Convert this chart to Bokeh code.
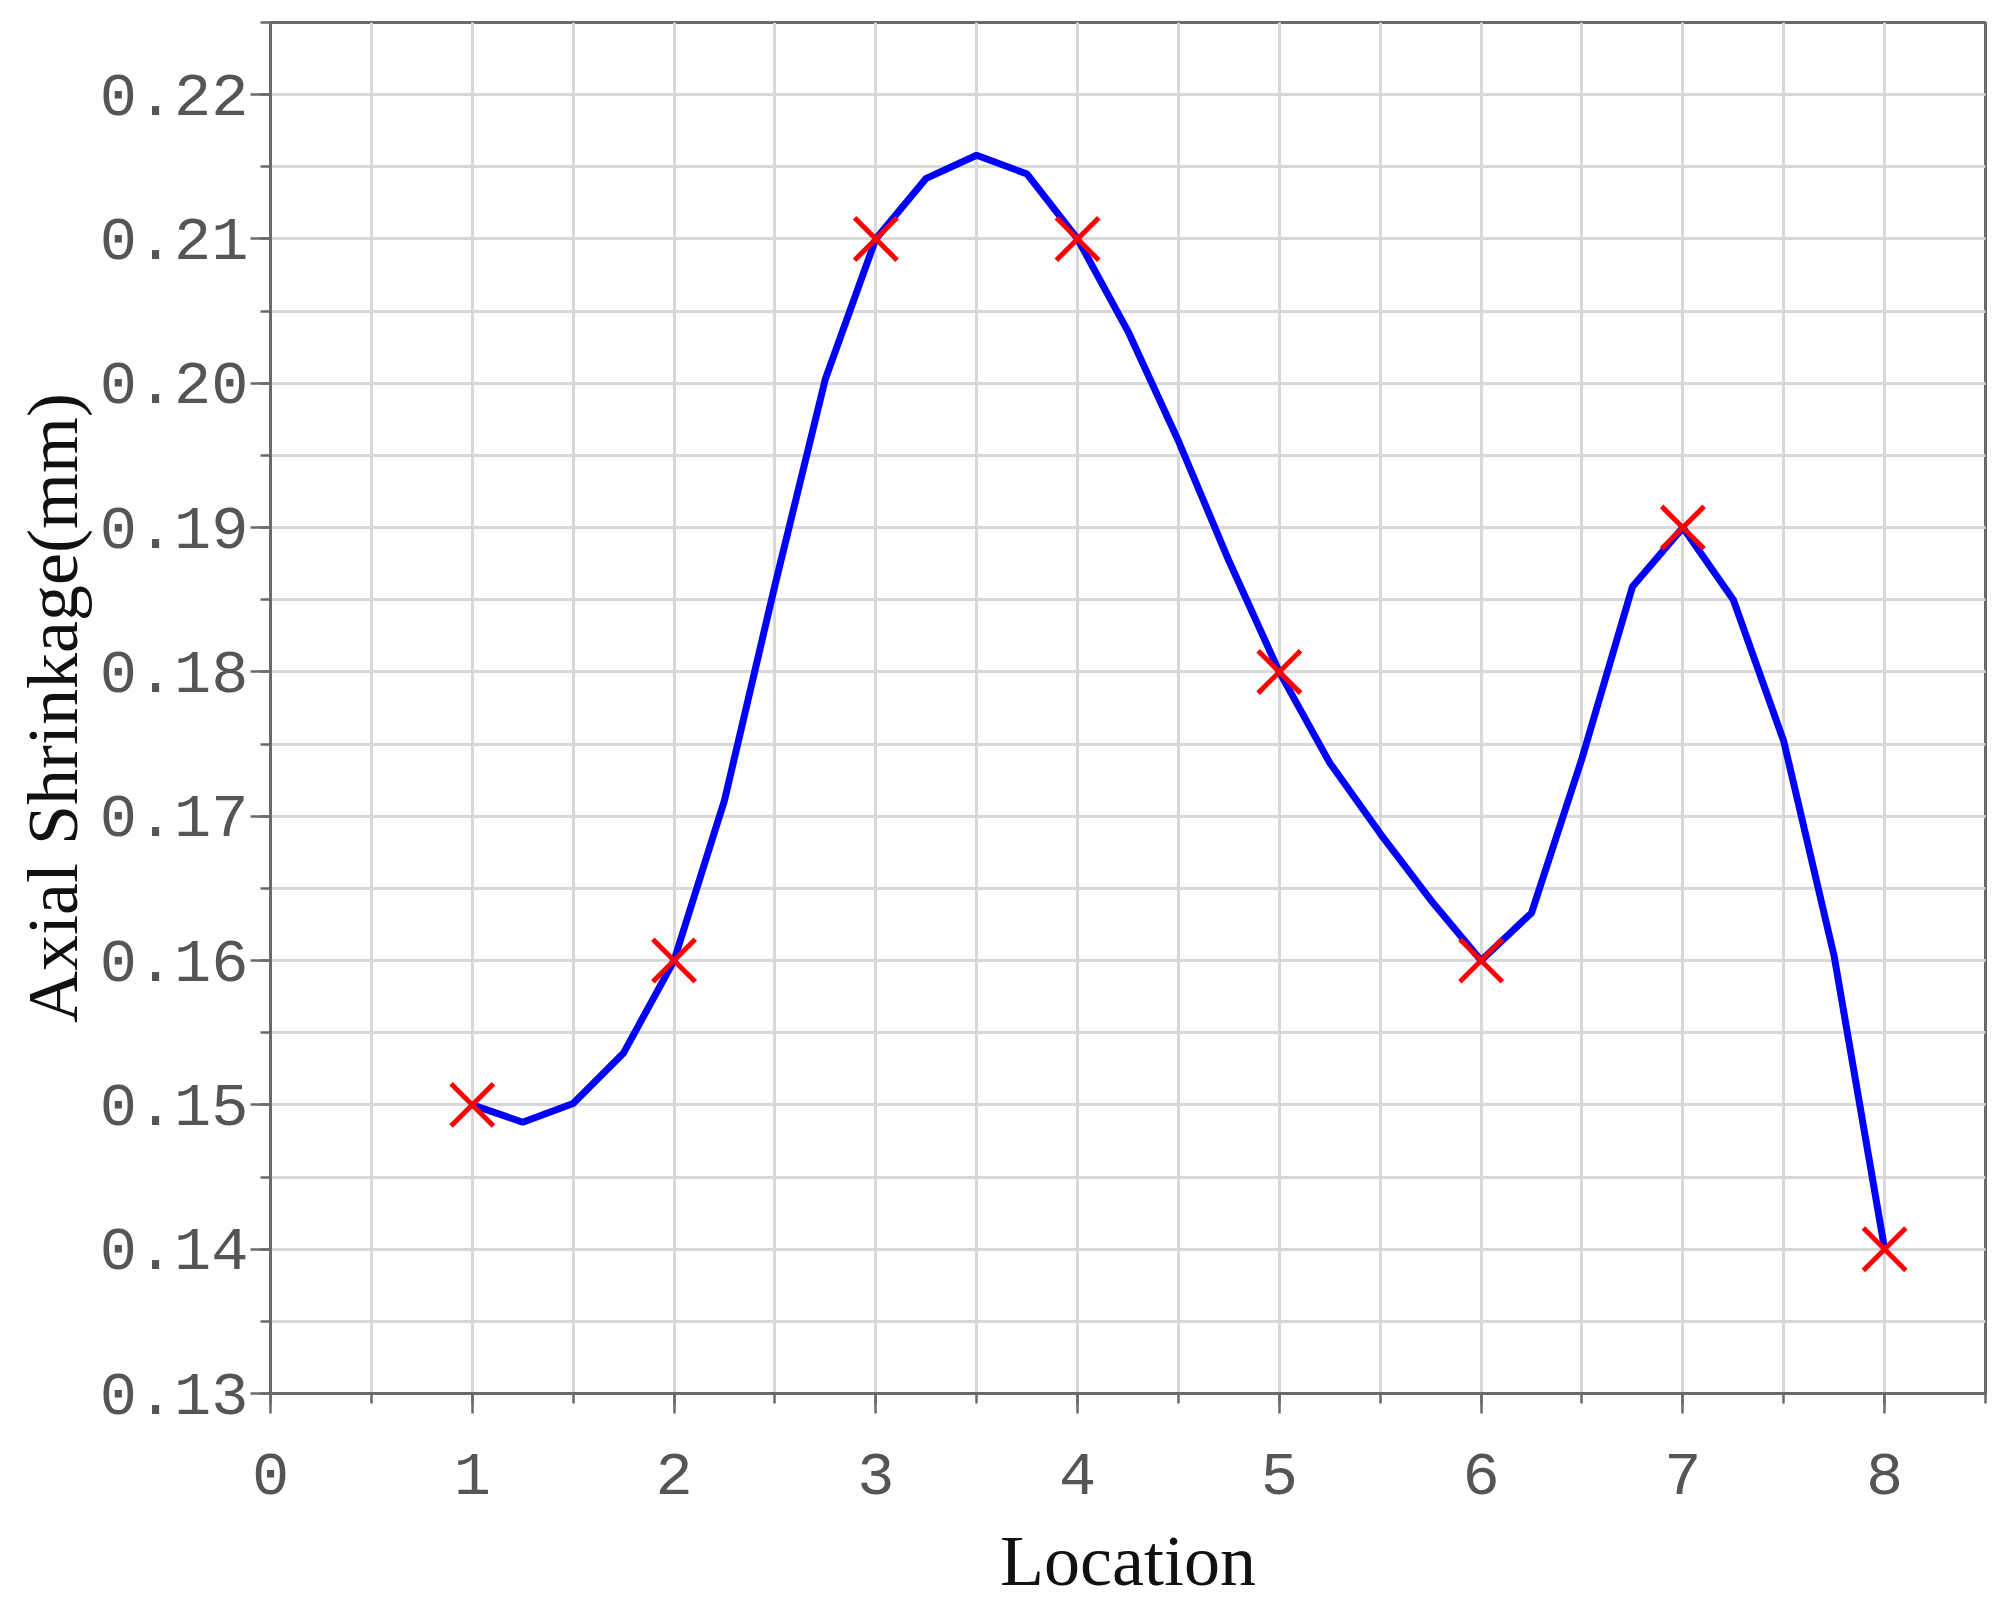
from bokeh.plotting import figure
from bokeh.models import Range1d, SingleIntervalTicker, PrintfTickFormatter
from bokeh.embed import file_html
from bokeh.resources import INLINE

# ---- data ----
location = [1, 2, 3, 4, 5, 6, 7, 8]
shrinkage = [0.150, 0.160, 0.210, 0.210, 0.180, 0.160, 0.190, 0.140]

curve_x = [1, 1.25, 1.5, 1.75, 2, 2.25, 2.5, 2.75, 3, 3.25, 3.5, 3.75, 4,
           4.25, 4.5, 4.75, 5, 5.25, 5.5, 5.75, 6, 6.25, 6.5, 6.75, 7,
           7.25, 7.5, 7.75, 8]
curve_y = [0.150, 0.1488, 0.1501, 0.1536, 0.160, 0.1711, 0.1860, 0.2003, 0.210,
           0.2142, 0.2158, 0.2145, 0.210, 0.2036, 0.1960, 0.1877, 0.180,
           0.1737, 0.1688, 0.1642, 0.160, 0.1633, 0.1740, 0.1859, 0.190,
           0.1850, 0.1752, 0.1603, 0.140]

x_title = "Location"
y_title = "Axial Shrinkage(mm)"

W, H = 1992, 1603
p = figure(width=W, height=H, output_backend="svg", toolbar_location=None,
           x_range=Range1d(0, 8.5), y_range=Range1d(0.13, 0.225),
           min_border_left=270, min_border_top=22,
           min_border_right=7, min_border_bottom=201)
p.background_fill_color = "white"
p.border_fill_color = "white"
p.outline_line_color = "#6a6a6a"
p.outline_line_width = 3

p.xaxis.ticker = SingleIntervalTicker(interval=1, num_minor_ticks=2)
p.yaxis.ticker = SingleIntervalTicker(interval=0.01, num_minor_ticks=2)
p.yaxis.formatter = PrintfTickFormatter(format="%.2f")

for ax in (p.xaxis, p.yaxis):
    ax.axis_line_color = "#6a6a6a"
    ax.axis_line_width = 3
    ax.major_tick_line_color = "#6a6a6a"
    ax.minor_tick_line_color = "#6a6a6a"
    ax.major_tick_line_width = 2.5
    ax.minor_tick_line_width = 2.5
    ax.major_tick_out = 20
    ax.major_tick_in = 0
    ax.minor_tick_out = 10
    ax.minor_tick_in = 0
    ax.major_label_text_font = "Liberation Mono"
    ax.major_label_text_font_size = "62px"
    ax.major_label_text_color = "#555555"
    ax.axis_label_text_font = "Liberation Serif"
    ax.axis_label_text_font_size = "72px"
    ax.axis_label_text_font_style = "normal"
    ax.axis_label_text_color = "#111111"

p.xaxis.axis_label = x_title
p.yaxis.axis_label = y_title
p.xaxis.major_label_standoff = 40
p.xaxis.axis_label_standoff = 24
p.yaxis.major_label_standoff = 2
p.yaxis.axis_label_standoff = 4

for g in (p.xgrid, p.ygrid):
    g.grid_line_color = "#d8d8d8"
    g.grid_line_width = 3
    g.minor_grid_line_color = "#d8d8d8"
    g.minor_grid_line_width = 3

p.line(curve_x, curve_y, line_color="#0000ff", line_width=7)
p.scatter(location, shrinkage, marker="x", size=60, line_color="#ff0000",
          line_width=5)

open("out.html", "w").write(file_html(p, INLINE))
